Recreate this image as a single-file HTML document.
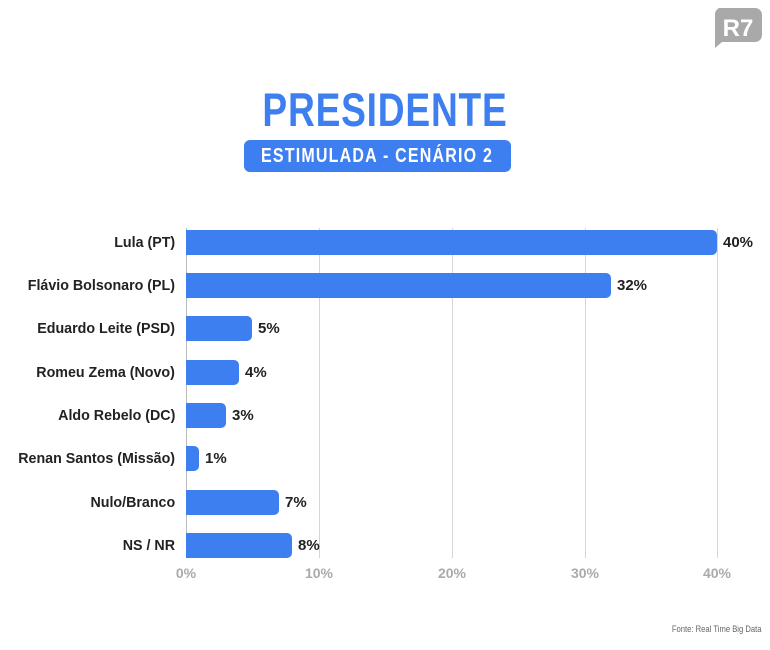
<!DOCTYPE html>
<html><head><style>
body{margin:0;width:770px;height:650px;background:#fff;font-family:"Liberation Sans",sans-serif;position:relative;overflow:hidden}
.a{position:absolute}
.lbl{position:absolute;right:595px;font-weight:bold;font-size:15px;color:#222;white-space:nowrap;transform:scaleX(.95);transform-origin:right center}
.bar{position:absolute;left:186px;height:25px;background:#3d7ef0;border-radius:0 5px 5px 0}
.val{position:absolute;font-weight:bold;font-size:15px;color:#222}
.grid{position:absolute;top:228px;height:330px;width:1px;background:#d6d6d6}
.tick{position:absolute;top:565px;font-weight:bold;font-size:14px;color:#aaa;width:60px;text-align:center;margin-left:-30px}
</style></head><body>
<svg class="a" style="left:713px;top:7px" width="50" height="42" viewBox="0 0 50 42"><path d="M6 1h36a7 7 0 0 1 7 7v20a7 7 0 0 1-7 7H9l-7 6V8a7 7 0 0 1 4-7z" fill="#a9a9a9"/><text x="25" y="29" text-anchor="middle" font-family="Liberation Sans" font-weight="bold" font-size="24" fill="#fff">R7</text></svg>
<div class="a" style="left:200px;width:370px;top:82px;text-align:center;font-weight:bold;font-size:47px;color:#3d7ef0;transform:scaleX(.79);letter-spacing:1px">PRESIDENTE</div>
<div class="a" style="left:244px;top:140px;width:267px;height:32px;background:#3d7ef0;border-radius:6px;color:#fff;font-weight:bold;font-size:20px;line-height:32px;text-align:center;overflow:hidden"><span style="display:inline-block;transform:scaleX(.8);letter-spacing:1.5px;white-space:nowrap;margin-left:-40px;margin-right:-40px">ESTIMULADA - CENÁRIO 2</span></div>
<div class="grid" style="left:186px;background:#bbb"></div>
<div class="grid" style="left:319px"></div>
<div class="grid" style="left:452px"></div>
<div class="grid" style="left:585px"></div>
<div class="grid" style="left:717px"></div>

<div class="lbl" style="top:234px">Lula (PT)</div><div class="bar" style="top:230px;width:531px"></div><div class="val" style="top:234px;left:723px">40%</div>
<div class="lbl" style="top:277px">Flávio Bolsonaro (PL)</div><div class="bar" style="top:273px;width:425px"></div><div class="val" style="top:277px;left:617px">32%</div>
<div class="lbl" style="top:320px">Eduardo Leite (PSD)</div><div class="bar" style="top:316px;width:66px"></div><div class="val" style="top:320px;left:258px">5%</div>
<div class="lbl" style="top:364px">Romeu Zema (Novo)</div><div class="bar" style="top:360px;width:53px"></div><div class="val" style="top:364px;left:245px">4%</div>
<div class="lbl" style="top:407px">Aldo Rebelo (DC)</div><div class="bar" style="top:403px;width:40px"></div><div class="val" style="top:407px;left:232px">3%</div>
<div class="lbl" style="top:450px">Renan Santos (Missão)</div><div class="bar" style="top:446px;width:13px"></div><div class="val" style="top:450px;left:205px">1%</div>
<div class="lbl" style="top:494px">Nulo/Branco</div><div class="bar" style="top:490px;width:93px"></div><div class="val" style="top:494px;left:285px">7%</div>
<div class="lbl" style="top:537px">NS / NR</div><div class="bar" style="top:533px;width:106px"></div><div class="val" style="top:537px;left:298px">8%</div>

<div class="tick" style="left:186px">0%</div>
<div class="tick" style="left:319px">10%</div>
<div class="tick" style="left:452px">20%</div>
<div class="tick" style="left:585px">30%</div>
<div class="tick" style="left:717px">40%</div>
<div class="a" style="right:8px;top:624px;font-size:9px;color:#666;transform:scaleX(.85);transform-origin:right">Fonte: Real Time Big Data</div>
</body></html>
